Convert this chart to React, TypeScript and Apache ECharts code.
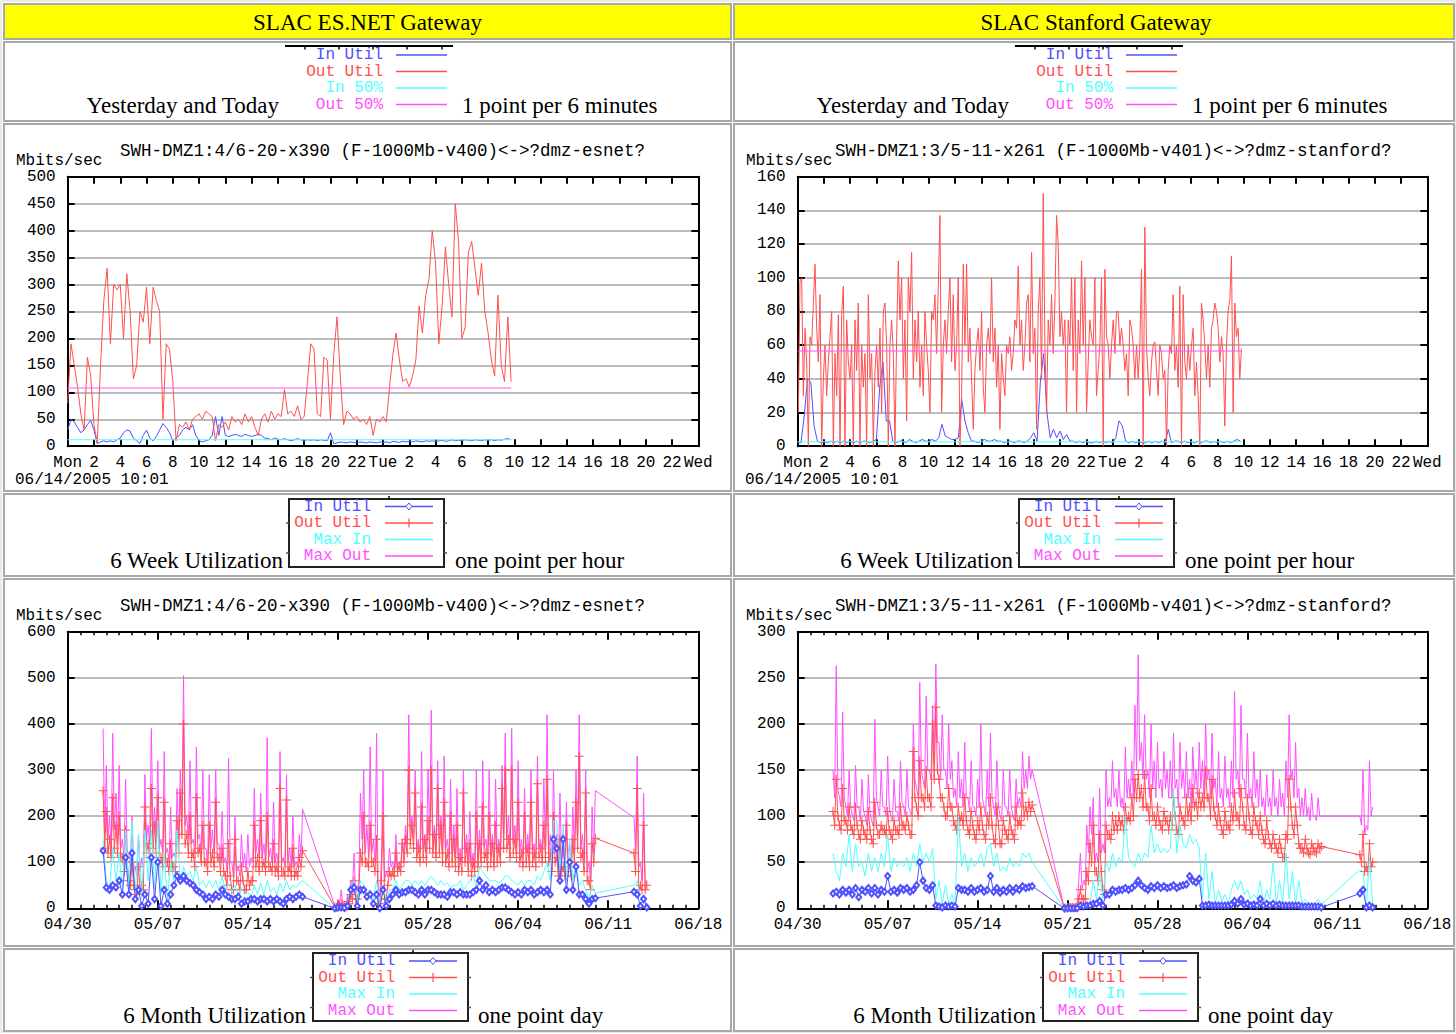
import React, { useEffect, useRef } from "react";
import * as echarts from "echarts";

// ---------------- labels ----------------
const DAY_NAMES = ["Mon", "Tue", "Wed"];
const DATE_TICKS = ["04/30", "05/07", "05/14", "05/21", "05/28", "06/04", "06/11", "06/18"];
const TITLE_ES = "SWH-DMZ1:4/6-20-x390 (F-1000Mb-v400)<->?dmz-esnet?";
const TITLE_ST = "SWH-DMZ1:3/5-11-x261 (F-1000Mb-v401)<->?dmz-stanford?";
const STAMP = "06/14/2005 10:01";

// ---------------- ES.NET, yesterday and today (hours from Mon 00:00, 0.25 h step) ----------------
const ES_DAY_STEP = 0.25;
const ES_DAY_OUT = [
  80, 190, 150, 110, 60, 30, 165, 130,
  40, 5, 150, 270, 330, 190, 300, 290,
  300, 200, 320, 250, 125, 150, 250, 230,
  295, 190, 295, 270, 250, 50, 190, 180,
  120, 10, 40, 35, 45, 30, 50, 55,
  60, 50, 65, 60, 55, 10, 40, 35,
  45, 30, 55, 45, 50, 40, 60, 45,
  55, 35, 20, 50, 60, 45, 65, 50,
  60, 55, 105, 60, 65, 55, 75, 50,
  55, 120, 190, 180, 60, 55, 165, 160,
  50, 170, 240, 130, 40, 65, 60, 50,
  55, 45, 50, 40, 55, 20, 50, 45,
  55, 45, 110, 170, 210, 160, 120, 125,
  110, 130, 160, 260, 210, 280, 310, 400,
  340, 190, 260, 370, 300, 240, 450, 380,
  200, 220, 360, 380, 330, 280, 340, 250,
  210, 160, 130, 280, 150, 120, 240, 120,
];
const ES_DAY_IN = [
  30, 50, 45, 35, 25, 30, 40, 48,
  30, 5, 8, 10, 8, 10, 8, 12,
  15, 25, 30, 28, 15, 10, 5, 20,
  30, 15, 10, 18, 30, 42, 35, 25,
  10, 15, 20, 30, 35, 30, 40, 20,
  10, 8, 10, 12, 20, 55, 20, 55,
  20, 18, 20, 22, 20, 18, 22, 20,
  18, 20, 22, 20, 15, 14, 12, 15,
  13, 12, 14, 12, 10, 12, 14, 12,
  10, 12, 11, 12, 10, 12, 11, 10,
  25, 5, 6, 8, 7, 6, 8, 7,
  6, 8, 7, 6, 8, 7, 6, 8,
  7, 8, 6, 9, 8, 7, 9, 8,
  9, 8, 10, 9, 8, 10, 9, 10,
  9, 10, 11, 9, 10, 12, 10, 11,
  10, 12, 11, 10, 12, 11, 10, 12,
  11, 12, 10, 12, 11, 13, 14, 12,
];
const ES_DAY_IN50 = 12;
const ES_DAY_OUT50 = 108;
const ES_DAY_END = 33.75;

// ---------------- Stanford, yesterday and today ----------------
const ST_DAY_OUT_START = 0.05;
const ST_DAY_OUT_STEP = 0.127;
const ST_DAY_OUT = [
  20, 98, 100, 30, 70, 50, 0, 65, 60, 85,
  108, 70, 50, 90, 0, 40, 60, 30, 50, 65,
  80, 0, 55, 30, 78, 0, 78, 95, 0, 75,
  50, 40, 60, 0, 75, 45, 85, 0, 60, 35,
  55, 0, 90, 40, 55, 0, 45, 60, 35, 70,
  20, 80, 85, 60, 0, 60, 75, 55, 0, 65,
  110, 75, 100, 40, 75, 15, 100, 80, 115, 40,
  75, 50, 80, 35, 60, 30, 80, 60, 45, 20,
  80, 75, 90, 55, 95, 137, 20, 60, 75, 55,
  80, 100, 50, 90, 45, 60, 100, 0, 30, 108,
  60, 108, 50, 70, 40, 10, 45, 60, 70, 45,
  80, 35, 20, 60, 70, 55, 100, 50, 70, 35,
  60, 10, 55, 40, 30, 60, 55, 65, 45, 55,
  75, 70, 107, 60, 75, 45, 60, 85, 90, 50,
  115, 55, 70, 10, 80, 100, 40, 150, 60, 20,
  75, 60, 90, 55, 85, 137, 120, 65, 80, 60,
  75, 20, 75, 60, 100, 45, 100, 20, 75, 55,
  110, 60, 100, 20, 50, 75, 65,
  60, 100, 30, 45, 60, 100, 0, 105, 65, 60,
  40, 60, 75, 55, 80, 80, 60, 70, 60, 45,
  55, 30, 75, 70, 60, 40, 60, 40, 60, 105,
  0, 130, 60, 40, 30, 50, 60, 62, 45, 30,
  60, 55, 40, 45, 0, 45, 60, 55, 90, 45,
  60, 35, 95, 0, 90, 50, 40, 60, 45, 60,
  70, 30, 50, 30, 0, 85, 75, 60, 40, 60,
  35, 70, 75, 85, 80, 70, 50, 65, 55, 12,
  60, 80, 87, 113, 20, 85, 65, 70, 40, 58,
];
const ST_DAY_IN_STEP = 0.25;
const ST_DAY_IN = [
  2, 2, 18, 40, 38, 12, 3, 2,
  3, 2, 3, 2, 3, 2, 3, 2,
  3, 2, 3, 2, 3, 3, 2, 3,
  4, 35, 50, 15, 15, 3, 2, 3,
  3, 2, 4, 3, 2, 3, 4, 3,
  3, 4, 3, 5, 13, 6, 5, 4,
  4, 5, 28, 15, 8, 3, 3, 2,
  3, 4, 3, 3, 4, 3, 3, 2,
  3, 3, 2, 3, 3, 2, 3, 5,
  8, 3, 38, 55, 20, 5, 10, 5,
  9, 4, 7, 3, 3, 2, 3, 2,
  3, 2, 2, 3, 2, 3, 2, 3,
  2, 5, 15, 12, 3, 2, 3, 2,
  3, 2, 2, 3, 2, 3, 2, 3,
  2, 10, 2, 3, 3, 2, 3, 2,
  3, 2, 3, 2, 3, 3, 2, 3,
  2, 3, 2, 3, 2, 3, 4, 3,
];
const ST_DAY_IN50 = 2.6;
const ST_DAY_OUT50 = 56.5;
const ST_DAY_END = 33.85;

// ---------------- 6 week charts (days from 04/30, three runs of samples) ----------------
// Out Util / Max Out: 0.125 day step; In Util / Max In: 0.25 day step
const FINE_STEP = 0.125;
const COARSE_STEP = 0.25;
const ES6_SEG_START = [2.75, 20.75, 44.0];
const ES6_FINE_LEN = [125, 163, 9];
const ES6_COARSE_LEN = [63, 82, 5];
const ES6_MAXOUT = [
  390, 160, 310, 150, 200, 130, 380, 170, 250, 140,
  310, 130, 150, 110, 280, 120, 120, 90,
  200, 80, 90, 70, 160, 80, 110, 90,
  290, 150, 180, 140, 390, 160, 220, 150,
  320, 130, 150, 120, 340, 120, 130, 100,
  220, 110, 120, 110, 260, 150, 300, 200,
  505, 180, 200, 150, 320, 140, 150, 120,
  350, 150, 160, 120, 300, 130, 130, 100,
  290, 130, 170, 120, 300, 140, 140, 100,
  210, 100, 110, 80, 325, 100, 100, 70,
  200, 80, 90, 70, 160, 90, 120, 80,
  160, 90, 110, 100, 260, 120, 150, 110,
  250, 110, 140, 100, 370, 110, 130, 100,
  230, 100, 120, 90, 340, 100, 110, 90,
  290, 100, 130, 90, 200, 90, 100, 90,
  160, 110, 215,
  5, 3,
  20, 10, 40, 8, 10, 5, 30, 20,
  60, 40, 120, 30, 40, 60, 250, 150,
  300, 120, 180, 110, 350, 120, 150, 100,
  380, 20, 30, 100, 300, 60, 80, 70,
  130, 90, 100, 80, 160, 90, 100, 90,
  150, 120, 180, 140, 420, 170, 200, 150,
  300, 130, 150, 120, 340, 130, 160, 120,
  300, 160, 430, 140, 180, 130, 320, 150,
  200, 120, 330, 130, 150, 110, 280, 120,
  180, 110, 260, 100, 130, 100, 300, 120,
  160, 100, 210, 90, 120, 90, 300, 110,
  170, 120, 320, 130, 150, 110, 300, 120,
  160, 110, 280, 120, 150, 120, 310, 160,
  380, 150, 200, 130, 390, 140, 180, 130,
  320, 120, 150, 110, 260, 120, 160, 110,
  300, 120, 140, 110, 330, 130, 150, 120,
  280, 130, 420, 120, 160, 100, 300, 120,
  160, 90, 250, 100, 130, 90, 230, 100,
  140, 90, 220, 120, 300, 160, 420, 130,
  160, 100, 300, 80, 100, 60, 220, 120,
  255,
  197, 120, 330, 90, 100, 60, 250, 50, 60,
];
const ES6_OUT = [
  255, 130, 210, 120, 150, 110, 240, 130, 180, 120,
  200, 110, 110, 80, 170, 100, 60, 50,
  100, 50, 40, 30, 90, 40, 50, 40,
  220, 120, 140, 110, 260, 130, 180, 120,
  240, 110, 110, 90, 230, 100, 100, 80,
  140, 90, 90, 80, 190, 120, 250, 160,
  400, 140, 160, 120, 200, 110, 120, 90,
  240, 120, 130, 100, 180, 100, 100, 80,
  180, 100, 120, 90, 230, 110, 110, 80,
  130, 80, 70, 50, 140, 70, 40, 40,
  150, 60, 60, 40, 90, 60, 40, 40,
  80, 50, 60, 60, 180, 90, 110, 80,
  190, 90, 100, 80, 200, 90, 90, 80,
  140, 80, 90, 70, 260, 80, 80, 70,
  235, 80, 90, 70, 130, 70, 80, 70,
  110, 90, 125,
  3, 2,
  5, 5, 10, 5, 5, 3, 15, 10,
  30, 20, 60, 20, 20, 40, 120, 100,
  200, 100, 100, 90, 180, 100, 100, 80,
  150, 10, 10, 60, 200, 20, 20, 50,
  80, 70, 80, 70, 120, 80, 90, 80,
  140, 100, 150, 120, 300, 140, 180, 130,
  250, 110, 130, 100, 220, 110, 150, 100,
  190, 130, 300, 120, 160, 110, 260, 120,
  180, 100, 230, 100, 120, 90, 200, 100,
  150, 90, 180, 80, 110, 80, 250, 100,
  130, 80, 140, 70, 100, 80, 200, 90,
  140, 100, 220, 110, 120, 90, 200, 100,
  140, 90, 180, 100, 130, 100, 260, 130,
  300, 130, 150, 110, 300, 120, 150, 110,
  230, 100, 120, 90, 200, 100, 130, 90,
  230, 100, 120, 90, 270, 110, 130, 100,
  180, 110, 280, 100, 120, 80, 200, 100,
  110, 70, 150, 80, 90, 70, 180, 80,
  100, 70, 150, 100, 230, 130, 330, 110,
  120, 80, 250, 60, 60, 40, 140, 100,
  152,
  120, 80, 260, 40, 50, 40, 180, 40, 50,
];
const ES6_MAXIN = [
  150,
  60, 40, 130, 60, 120, 40, 170, 40, 190, 30, 160, 20, 170, 60, 170, 40,
  190, 30, 120, 20, 100, 60, 170, 60, 90, 70, 80, 60, 90, 50, 60, 45,
  60, 45, 60, 40, 70, 40, 55, 35, 50, 30, 45, 30, 35, 25, 50, 30,
  55, 30, 60, 35, 45, 30, 55, 35, 60, 40, 50, 45, 55, 60,
  0,
  5, 5, 3, 10, 50, 60, 10, 60, 50, 30, 40, 20, 60, 0, 50, 10,
  40, 40, 60, 40, 50, 60, 60, 50, 60, 50, 60, 50, 60, 70, 60, 50,
  60, 50, 55, 45, 50, 50, 60, 40, 50, 60, 70, 50, 90, 80, 70, 60,
  60, 60, 55, 60, 70, 70, 60, 55, 50, 60, 50, 60, 60, 50, 70, 60,
  80, 100, 60, 190, 190, 80, 180, 60, 150, 60, 100, 50, 60, 40, 20, 50,
  33,
  50, 60, 20, 30, 5,
];
const ES6_IN = [
  125,
  45, 40, 50, 45, 60, 30, 110, 30, 120, 20, 40, 5, 30, 10, 110, 20,
  100, 5, 40, 10, 30, 50, 70, 60, 70, 60, 55, 50, 40, 35, 30, 20,
  25, 20, 30, 25, 40, 30, 25, 20, 20, 25, 10, 15, 15, 20, 20, 15,
  20, 20, 15, 20, 15, 20, 15, 10, 20, 25, 20, 25, 30, 25,
  0,
  2, 2, 1, 5, 40, 45, 5, 40, 40, 25, 30, 10, 30, 0, 40, 5,
  20, 30, 40, 30, 35, 35, 40, 40, 35, 30, 40, 30, 40, 40, 35, 30,
  30, 30, 25, 35, 35, 30, 35, 30, 30, 30, 35, 40, 60, 40, 50, 35,
  40, 35, 40, 45, 45, 40, 35, 30, 35, 30, 40, 35, 40, 30, 35, 40,
  35, 40, 30, 150, 130, 60, 150, 40, 100, 40, 90, 30, 30, 20, 10, 20,
  22,
  36, 30, 5, 20, 2,
];

const ST6_SEG_START = [2.75, 20.75, 43.75];
const ST6_FINE_LEN = [125, 161, 9];
const ST6_COARSE_LEN = [63, 81, 5];
const ST6_MAXOUT = [
  150, 120, 263, 130, 120, 110, 213, 120, 110, 100,
  150, 110, 100, 95, 155, 110, 110, 95,
  140, 105, 100, 90, 145, 105, 95, 90,
  205, 120, 110, 100, 150, 110, 110, 100,
  165, 110, 100, 95, 140, 105, 105, 95,
  160, 115, 110, 100, 150, 110, 105, 100,
  200, 140, 130, 120, 245, 150, 140, 130,
  230, 150, 150, 140, 220, 160, 265, 180,
  180, 140, 210, 150, 150, 130, 200, 140,
  160, 120, 130, 110, 170, 120, 140, 110,
  180, 120, 120, 105, 160, 110, 110, 100,
  140, 110, 200, 120, 110, 100, 150, 110,
  190, 120, 110, 100, 160, 110, 100, 95,
  150, 110, 110, 100, 150, 110, 100, 95,
  140, 110, 120, 110, 170, 130, 150, 130,
  165, 140, 150,
  0, 0,
  2, 1, 2, 2, 3, 2, 5, 30,
  60, 20, 30, 25, 90, 60, 110, 80,
  120, 50, 60, 50, 130, 60, 70, 60,
  150, 110, 120, 110, 160, 120, 130, 110,
  150, 110, 120, 105, 175, 120, 140, 120,
  160, 120, 220, 150, 275, 160, 180, 140,
  210, 140, 150, 120, 200, 130, 160, 120,
  180, 130, 140, 120, 170, 130, 150, 120,
  160, 120, 190, 130, 140, 110, 180, 130,
  150, 120, 170, 120, 140, 110, 175, 130,
  150, 120, 180, 130, 160, 120, 200, 140,
  150, 120, 190, 130, 140, 110, 170, 120,
  130, 110, 165, 120, 130, 110, 160, 120,
  235, 140, 150, 120, 220, 140, 140, 120,
  190, 120, 130, 110, 170, 120, 140, 110,
  150, 110, 120, 100, 145, 110, 120, 100,
  150, 110, 120, 100, 140, 110, 125, 100,
  160, 120, 210, 140, 150, 120, 180, 120,
  130, 100, 120, 100, 130, 100, 110, 95,
  125, 100, 100, 95, 120, 100, 100,
  100, 90, 150, 80, 90, 85, 160, 100, 110,
];
const ST6_OUT = [
  105, 90, 140, 100, 90, 85, 130, 95, 95, 85,
  110, 90, 85, 80, 110, 90, 80, 75,
  95, 85, 80, 75, 105, 85, 75, 70,
  115, 90, 80, 80, 90, 85, 85, 80,
  105, 85, 80, 75, 95, 85, 85, 80,
  110, 90, 90, 85, 100, 90, 80, 80,
  170, 120, 110, 100, 160, 120, 120, 110,
  150, 120, 120, 110, 200, 140, 218, 150,
  140, 120, 120, 110, 100, 100, 130, 110,
  110, 95, 90, 85, 110, 95, 100, 90,
  120, 95, 85, 80, 105, 90, 80, 75,
  95, 85, 110, 90, 80, 75, 100, 90,
  120, 90, 75, 70, 110, 90, 70, 70,
  95, 85, 80, 75, 100, 85, 80, 75,
  110, 90, 95, 90, 125, 100, 110, 100,
  115, 105, 112,
  0, 0,
  1, 1, 1, 1, 1, 1, 2, 10,
  20, 10, 10, 10, 40, 30, 70, 50,
  90, 40, 40, 30, 80, 40, 20, 15,
  90, 80, 80, 75, 100, 85, 95, 85,
  100, 90, 95, 85, 110, 95, 100, 95,
  120, 100, 140, 120, 145, 120, 130, 110,
  145, 110, 110, 95, 130, 100, 100, 90,
  110, 95, 90, 85, 105, 95, 95, 85,
  100, 90, 120, 100, 85, 80, 110, 100,
  95, 90, 120, 100, 110, 95, 130, 110,
  115, 100, 125, 110, 120, 110, 150, 120,
  120, 100, 140, 110, 100, 90, 110, 95,
  85, 80, 105, 90, 90, 85, 110, 95,
  125, 100, 100, 90, 130, 110, 90, 85,
  120, 100, 85, 80, 110, 95, 90, 80,
  100, 85, 75, 70, 95, 80, 70, 65,
  80, 70, 65, 60, 75, 65, 55, 55,
  80, 75, 140, 110, 90, 80, 110, 90,
  70, 65, 65, 60, 75, 65, 60, 58,
  70, 65, 62, 60, 70, 65, 67,
  58, 50, 80, 40, 45, 40, 70, 45, 50,
];
const ST6_MAXIN = [
  60,
  40, 30, 60, 45, 80, 40, 70, 45, 50, 35, 60, 40, 55, 40, 60, 45,
  80, 40, 55, 45, 50, 45, 55, 40, 60, 45, 70, 50, 60, 50, 65, 10,
  30, 5, 25, 5, 15, 5, 100, 45, 60, 40, 55, 45, 50, 60, 45, 65,
  70, 45, 60, 40, 45, 40, 55, 45, 50, 45, 60, 55, 60, 50,
  0,
  0, 0, 0, 1, 5, 3, 5, 5, 30, 10, 40, 10, 50, 40, 60, 45,
  55, 50, 100, 55, 50, 45, 60, 50, 60, 55, 90, 60, 70, 60, 65, 60,
  65, 130, 60, 90, 70, 65, 80, 70, 75, 65, 10, 60, 10, 40, 5, 20,
  8, 15, 5, 20, 30, 20, 30, 15, 20, 10, 15, 10, 30, 5, 20, 10,
  50, 5, 30, 5, 60, 10, 40, 5, 30, 5, 10, 5, 5, 5, 10, 4,
  42, 40, 0, 55, 3,
];
const ST6_IN = [
  16,
  18, 15, 20, 17, 20, 15, 22, 12, 20, 18, 22, 16, 22, 15, 20, 18,
  35, 18, 20, 17, 22, 20, 22, 18, 20, 25, 50, 30, 22, 20, 25, 3,
  2, 1, 3, 2, 3, 2, 22, 20, 20, 18, 22, 18, 20, 22, 18, 20,
  35, 18, 22, 17, 20, 18, 22, 18, 22, 20, 24, 22, 23, 24,
  0,
  0, 0, 0, 0, 3, 2, 3, 3, 5, 5, 8, 3, 15, 15, 20, 18,
  20, 20, 22, 20, 22, 25, 30, 25, 22, 20, 24, 22, 25, 22, 24, 22,
  23, 25, 22, 24, 25, 26, 35, 30, 28, 32, 3, 3, 4, 3, 3, 3,
  3, 3, 3, 4, 8, 5, 10, 4, 5, 3, 4, 3, 10, 3, 5, 3,
  5, 3, 4, 3, 3, 3, 3, 3, 3, 2, 2, 2, 2, 2, 2, 1,
  16, 20, 1, 3, 1,
];

// ---------------- styles / layout ----------------
const BLUE = "#5050ff";
const RED = "#ff5050";
const CYAN = "#50ffff";
const MAGENTA = "#ff50ff";
const GRIDLINE = "#bcbcbc";
const CELL_BORDER = "#a8a8a8";
const MONO = '"Liberation Mono", "DejaVu Sans Mono", monospace';
const SERIF = '"Liberation Serif", "DejaVu Serif", serif';
const PLUS = "path://M4,0h1v4h4v1h-4v4h-1v-4h-4v-1h4z";
const MONO_SIZE = 16;

const GRIDS = [
  { left: 67.7, top: 176.7, width: 630.6, height: 269.5 },
  { left: 797.7, top: 176.7, width: 629.6, height: 269.5 },
  { left: 67.7, top: 631.7, width: 630.6, height: 276.6 },
  { left: 797.7, top: 631.7, width: 629.6, height: 276.6 },
];

function uniform(start: number, step: number, vals: number[]) {
  return vals.map((v, i) => [start + i * step, v]);
}
function segTimes(starts: number[], lens: number[], step: number) {
  const t: number[] = [];
  starts.forEach((s, k) => {
    for (let i = 0; i < lens[k]; i++) t.push(s + i * step);
  });
  return t;
}
function pair(ts: number[], vals: number[]) {
  return vals.map((v, i) => [ts[i], v]);
}
function flat(end: number, v: number) {
  return [[0, v], [end, v]];
}

function buildOption() {
  const xAxis: any[] = [];
  const yAxis: any[] = [];
  const black = { color: "#000", width: 2 };
  GRIDS.forEach((g, gi) => {
    const isDay = gi < 2;
    const base: any = {
      type: "value",
      gridIndex: gi,
      min: 0,
      max: isDay ? 48 : 49,
      interval: isDay ? 2 : 7,
      axisLine: { show: true, onZero: false, lineStyle: black },
      axisTick: { show: true, inside: true, length: isDay ? 7 : 8, lineStyle: black },
      minorTick: isDay
        ? { show: false }
        : { show: true, splitNumber: 7, length: 3.5, lineStyle: { color: "#000", width: 1.5 } },
      splitLine: { show: false },
      minorSplitLine: { show: false },
    };
    xAxis.push({
      ...base,
      position: "bottom",
      axisLabel: {
        show: true,
        margin: 9,
        fontFamily: MONO,
        fontSize: MONO_SIZE,
        color: "#000",
        formatter: (v: number) =>
          isDay ? (v % 24 === 0 ? DAY_NAMES[v / 24] : String(v % 24)) : DATE_TICKS[Math.round(v / 7)],
      },
    });
    xAxis.push({ ...base, position: "top", axisLabel: { show: false } });
    const ymax = [500, 160, 600, 300][gi];
    const yint = [50, 20, 100, 50][gi];
    const ybase: any = {
      type: "value",
      gridIndex: gi,
      min: 0,
      max: ymax,
      interval: yint,
      axisLine: { show: true, onZero: false, lineStyle: black },
      axisTick: { show: true, inside: true, length: 7, lineStyle: black },
    };
    yAxis.push({
      ...ybase,
      position: "left",
      axisLabel: { show: true, margin: 12, fontFamily: MONO, fontSize: MONO_SIZE, color: "#000" },
      splitLine: { show: true, lineStyle: { color: GRIDLINE, width: 2 } },
    });
    yAxis.push({ ...ybase, position: "right", axisLabel: { show: false }, splitLine: { show: false } });
  });

  const line = (gi: number, data: any[], color: string, z: number, extra: any = {}) => ({
    type: "line",
    xAxisIndex: gi * 2,
    yAxisIndex: gi * 2,
    data,
    symbol: "none",
    lineStyle: { color, width: 1 },
    itemStyle: { color },
    z,
    silent: true,
    animation: false,
    ...extra,
  });

  const es6Fine = segTimes(ES6_SEG_START, ES6_FINE_LEN, FINE_STEP);
  const es6Coarse = segTimes(ES6_SEG_START, ES6_COARSE_LEN, COARSE_STEP);
  const st6Fine = segTimes(ST6_SEG_START, ST6_FINE_LEN, FINE_STEP);
  const st6Coarse = segTimes(ST6_SEG_START, ST6_COARSE_LEN, COARSE_STEP);
  const plusOpts = { symbol: PLUS, symbolSize: 9, showSymbol: true, itemStyle: { color: RED } };
  const diaOpts = {
    symbol: "emptyDiamond",
    symbolSize: [5, 6],
    showSymbol: true,
    itemStyle: { color: BLUE, borderColor: BLUE, borderWidth: 1 },
  };

  const series: any[] = [
    // top-left
    line(0, uniform(0, ES_DAY_STEP, ES_DAY_IN), BLUE, 3),
    line(0, uniform(0, ES_DAY_STEP, ES_DAY_OUT), RED, 4),
    line(0, flat(ES_DAY_END, ES_DAY_IN50), CYAN, 5),
    line(0, flat(ES_DAY_END, ES_DAY_OUT50), MAGENTA, 6),
    // top-right
    line(1, uniform(0, ST_DAY_IN_STEP, ST_DAY_IN), BLUE, 3),
    line(1, uniform(ST_DAY_OUT_START, ST_DAY_OUT_STEP, ST_DAY_OUT), RED, 4),
    line(1, flat(ST_DAY_END, ST_DAY_IN50), CYAN, 5),
    line(1, flat(ST_DAY_END, ST_DAY_OUT50), MAGENTA, 6),
    // bottom-left
    line(2, pair(es6Fine, ES6_MAXOUT), MAGENTA, 3),
    line(2, pair(es6Fine, ES6_OUT), RED, 4, plusOpts),
    line(2, pair(es6Coarse, ES6_MAXIN), CYAN, 5),
    line(2, pair(es6Coarse, ES6_IN), BLUE, 6, diaOpts),
    // bottom-right
    line(3, pair(st6Fine, ST6_MAXOUT), MAGENTA, 3),
    line(3, pair(st6Fine, ST6_OUT), RED, 4, plusOpts),
    line(3, pair(st6Coarse, ST6_MAXIN), CYAN, 5),
    line(3, pair(st6Coarse, ST6_IN), BLUE, 6, diaOpts),
  ];

  // ---------- page furniture (table cells, titles, legends) ----------
  const els: any[] = [];
  const txt = (x: number, y: number, text: string, opt: any) =>
    els.push({
      type: "text",
      x,
      y,
      silent: true,
      z: 20,
      style: { text, fill: "#000", verticalAlign: "middle", align: "left", ...opt },
    });
  const seg = (x1: number, y1: number, x2: number, y2: number, stroke: string, lineWidth: number) =>
    els.push({ type: "line", silent: true, z: 20, shape: { x1, y1, x2, y2 }, style: { stroke, lineWidth } });
  const mono = { fontFamily: MONO, fontSize: MONO_SIZE };
  const monoTitle = { fontFamily: MONO, fontSize: 17.5 };
  const serif = { fontFamily: SERIF, fontSize: 23 };

  els.push({
    type: "rect",
    silent: true,
    z: 1,
    shape: { x: 1, y: 1, width: 1454, height: 1031 },
    style: { fill: "none", stroke: "#d4d4d4", lineWidth: 1 },
  });
  const cols = [
    { x: 4, w: 727 },
    { x: 734, w: 720 },
  ];
  const rows = [
    { y: 4, h: 35, fill: "#ffff00" },
    { y: 42, h: 79, fill: "none" },
    { y: 124, h: 367, fill: "none" },
    { y: 494, h: 82, fill: "none" },
    { y: 579, h: 367, fill: "none" },
    { y: 949, h: 82, fill: "none" },
  ];
  cols.forEach((c) =>
    rows.forEach((r) =>
      els.push({
        type: "rect",
        silent: true,
        z: 1,
        shape: { x: c.x, y: r.y, width: c.w, height: r.h },
        style: { fill: r.fill, stroke: CELL_BORDER, lineWidth: 2 },
      })
    )
  );

  txt(367.5, 22, "SLAC ES.NET Gateway", { ...serif, align: "center" });
  txt(1096, 22, "SLAC Stanford Gateway", { ...serif, align: "center" });

  const colors = [BLUE, RED, CYAN, MAGENTA];
  [0, 730].forEach((ox, ci) => {
    const title = ci === 0 ? TITLE_ES : TITLE_ST;
    const tx = ci === 0 ? 120 : 105;
    // chart texts
    txt(tx + ox, 150.5, title, monoTitle);
    txt(16 + ox, 160.5, "Mbits/sec", mono);
    txt(15 + ox, 479.5, STAMP, mono);
    txt(tx + ox, 605.5, title, monoTitle);
    txt(16 + ox, 615.5, "Mbits/sec", mono);

    // legend: yesterday and today
    seg(285 + ox, 46, 453 + ox, 46, "#000", 2);
    [305, 339, 373, 407, 442].forEach((x) => seg(x + ox, 46, x + ox, 49.5, "#000", 1.5));
    ["In Util", "Out Util", "In 50%", "Out 50%"].forEach((n, i) => {
      const y = [55, 71.5, 88, 104.5][i];
      txt(383 + ox, y, n, { ...mono, align: "right", fill: colors[i] });
      seg(396 + ox, y, 447 + ox, y, colors[i], 1.5);
    });
    txt(279 + ox, 105, "Yesterday and Today", { ...serif, align: "right" });
    txt(462 + ox, 105, "1 point per 6 minutes", serif);

    // boxed legends
    const boxed = (bx: number, by: number, ys: number[], left: string, right: string, ty: number, lx: number, rx: number) => {
      els.push({
        type: "rect",
        silent: true,
        z: 19,
        shape: { x: bx + ox, y: by, width: 155, height: 68 },
        style: { fill: "#fff", stroke: "#222", lineWidth: 2 },
      });
      seg(bx + 100 + ox, by - 3, bx + 100 + ox, by, "#000", 1.5);
      [ys[1], ys[3] - 3].forEach((yy) => {
        seg(bx - 3 + ox, yy, bx + ox, yy, "#555", 1.5);
        seg(bx + 155 + ox, yy, bx + 158 + ox, yy, "#555", 1.5);
      });
      ["In Util", "Out Util", "Max In", "Max Out"].forEach((n, i) => {
        const y = ys[i];
        txt(bx + 82 + ox, y, n, { ...mono, align: "right", fill: colors[i] });
        seg(bx + 96 + ox, y, bx + 144 + ox, y, colors[i], 1.5);
        const cx = bx + 120 + ox;
        if (i === 0) {
          els.push({
            type: "polygon",
            silent: true,
            z: 21,
            shape: { points: [[cx, y - 3.5], [cx + 3, y], [cx, y + 3.5], [cx - 3, y]] },
            style: { fill: "#fff", stroke: BLUE, lineWidth: 1 },
          });
        }
        if (i === 1) seg(cx, y - 4.5, cx, y + 4.5, RED, 1.2);
      });
      txt(lx + ox, ty, left, { ...serif, align: "right" });
      txt(rx + ox, ty, right, serif);
    };
    boxed(289, 499, [506.5, 523, 539.5, 556], "6 Week Utilization", "one point per hour", 560, 283, 455);
    boxed(313, 953, [961, 977.5, 994, 1010.5], "6 Month Utilization", "one point day", 1015, 306, 478);
  });

  return {
    animation: false,
    backgroundColor: "#ffffff",
    grid: GRIDS.map((g) => ({ ...g, containLabel: false, outerBoundsMode: "none", show: false })),
    xAxis,
    yAxis,
    series,
    graphic: { elements: els },
  };
}

export default function App() {
  const ref = useRef<HTMLDivElement>(null);
  useEffect(() => {
    if (!ref.current) return;
    const chart = echarts.init(ref.current, undefined, { renderer: "svg" });
    chart.setOption(buildOption() as any);
    return () => chart.dispose();
  }, []);
  return (
    <div
      ref={ref}
      style={{ position: "absolute", left: 0, top: 0, width: 1456, height: 1034, background: "#fff" }}
    />
  );
}
